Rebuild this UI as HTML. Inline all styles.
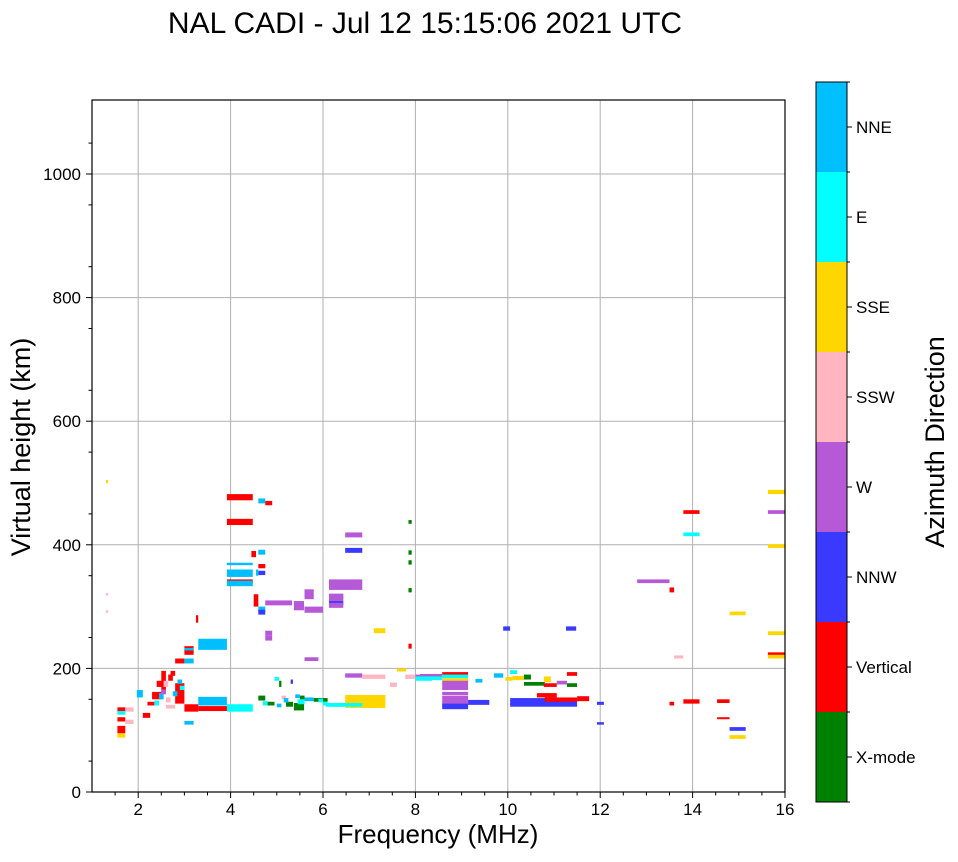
<!DOCTYPE html>
<html><head><meta charset="utf-8"><style>
body{margin:0;background:#fff;width:958px;height:857px;overflow:hidden;font-family:"Liberation Sans",sans-serif}
svg text{font-family:"Liberation Sans",sans-serif}
</style></head><body>
<svg id="chart" width="958" height="857" xmlns="http://www.w3.org/2000/svg">
<text x="425" y="33" font-size="30" text-anchor="middle">NAL CADI - Jul 12 15:15:06 2021 UTC</text>
<g id="grid"></g>
<g id="marks"></g>
<rect x="92" y="100" width="693" height="692" fill="none" stroke="#000" stroke-width="1.2"/>
<g id="axes"></g>
<text x="438" y="843" font-size="26" text-anchor="middle">Frequency (MHz)</text>
<text transform="translate(30,447) rotate(-90)" font-size="27" text-anchor="middle">Virtual height (km)</text>
<g id="cbar"></g>
<text transform="translate(944,442) rotate(-90)" font-size="27" text-anchor="middle">Azimuth Direction</text>
</svg>
<script>
const directions=["X-mode","Vertical","NNW","W","SSW","SSE","E","NNE"];
const dirColors=["#008000","#ff0000","#3a3aff","#b659d6","#ffb6c1","#ffd700","#00ffff","#00bfff"];
const xTicks=[2,4,6,8,10,12,14,16];
const yTicks=[0,200,400,600,800,1000];
// segments: [f0 MHz, f1 MHz, h0 km, h1 km, direction index]
const segF0=[3.92,3.92,3.92,3.92,3.92,3.92,4.6,4.75,4.6,4.6,4.6,6.48,6.48,6.13,5.6,6.13,6.13,6.13,6.13,5.37,5.6,4.75,4.6,4.6,4.75,4.75,7.1,3.3,3.0,3.0,3.0,2.8,3.0,5.6,6.48,6.85,7.78,8.0,8.0,6.48,6.13,6.48,6.85,6.06,5.37,5.6,4.6,3.92,3.3,3.3,3.0,2.8,2.5,2.1,1.55,1.55,1.55,1.55,1.55,1.72,1.72,1.6,1.97,3.0,3.25,8.1,8.1,8.58,8.58,8.58,8.58,8.58,8.58,8.58,8.58,9.14,9.3,10.05,10.63,10.8,11.5,10.35,10.1,10.78,10.35,10.78,11.28,11.28,11.06,11.93,11.93,13.5,13.8,14.53,14.53,14.8,14.8,13.6,15.63,15.63,10.05,12.8,13.5,13.8,13.8,15.63,15.63,15.63,14.8,15.63,11.26,9.9,7.85,7.85,7.85,7.85,7.85,1.3,1.3,1.3,4.8,5.0,5.2,5.45,5.8,4.95,5.1,5.4,2.3,2.4,2.6,2.2,4.5,4.55,4.45,5.05,5.3,9.7,9.95,7.45,7.6,2.45,2.55,2.65,2.75,2.9,2.35,2.5,2.7,2.6,2.85,4.7,5.15,5.5,5.9,6.0];
const segF1=[4.48,4.48,4.48,4.48,4.48,4.48,4.75,4.9,4.75,4.75,4.75,6.85,6.85,6.85,5.8,6.44,6.44,6.44,6.44,5.59,6.0,5.33,4.75,4.75,4.9,4.9,7.35,3.92,3.2,3.2,3.2,3.0,3.2,5.9,6.85,7.35,8.0,8.36,8.36,7.35,6.44,7.35,7.1,6.85,5.59,5.8,4.75,4.48,3.92,3.92,3.3,3.0,2.6,2.26,1.72,1.72,1.72,1.72,1.72,1.9,1.9,1.72,2.1,3.2,3.3,8.58,8.58,9.14,9.14,9.14,9.14,9.14,9.14,9.14,9.14,9.6,9.45,11.5,11.06,11.5,11.76,10.5,10.35,10.93,10.8,11.06,11.5,11.5,11.28,12.08,12.08,13.6,14.15,14.8,14.8,15.15,15.15,13.8,16,16,10.2,13.5,13.6,14.15,14.15,16,16,16,15.15,16,11.48,10.05,7.92,7.92,7.92,7.92,7.92,1.35,1.35,1.35,4.95,5.1,5.35,5.6,6.1,5.05,5.2,5.5,2.5,2.6,2.8,2.35,4.6,4.6,4.55,5.1,5.35,9.9,10.1,7.6,7.8,2.55,2.65,2.75,2.85,3.0,2.45,2.6,2.8,2.7,2.95,4.8,5.25,5.6,6.0,6.1];
const segH0=[472,432,367,348,337,333,467,464,384,362,351,412,387,327,312,313,309,303,298,294,290,302,291,287,253,245,257,230,229,227,222,208,208,212,185,183,183,183,180,144,138,136,136,138,132,147,148,130,140,131,130,143,160,120,129,125,114,95,88,110,130,126,153,109,274,185,181,188,184,178,165,157,141,138,134,141,177,138,153,146,147,182,181,178,172,170,170,188,174,141,109,140,143,144,118,99,86,216,220,216,191,338,323,450,414,482,450,395,286,254,261,261,434,384,368,323,232,500,318,290,140,137,138,142,146,180,150,152,150,170,135,140,300,350,380,170,175,185,180,170,195,150,170,180,155,165,140,158,188,145,175,140,145,150,145,140];
const segH1=[482,442,371,360,344,342,475,471,392,369,358,420,395,344,328,321,316,309,306,309,300,310,300,295,261,253,265,248,236,233,229,216,216,218,192,190,190,190,187,157,144,145,143,144,144,153,156,142,154,139,142,176,196,128,137,131,121,107,95,117,137,131,165,115,286,191,187,194,190,184,180,162,156,143,140,149,183,152,160,153,155,190,188,187,178,176,176,194,180,146,113,146,150,150,121,105,92,221,226,222,197,344,331,456,420,489,456,401,292,260,268,268,440,391,375,330,240,505,322,294,146,143,146,150,152,186,156,158,162,180,141,146,320,360,390,180,182,192,186,177,200,160,180,190,163,172,148,166,196,153,182,147,152,156,151,146];
const segDir=[1,1,7,7,1,7,7,1,7,1,2,3,2,3,3,3,3,2,3,3,3,3,7,2,3,3,5,7,1,7,1,1,7,3,3,4,4,3,6,5,6,5,5,6,0,7,0,6,7,1,1,1,1,1,1,6,1,1,5,4,4,6,7,7,1,3,6,1,6,5,3,3,3,2,2,2,7,2,1,1,1,0,5,5,0,1,0,1,3,2,2,1,1,1,1,2,5,4,1,5,6,3,1,1,6,5,3,5,5,5,2,2,0,0,0,0,1,5,4,4,0,7,0,6,0,6,4,7,1,1,4,1,1,7,1,0,2,7,5,4,5,7,4,1,7,6,6,3,1,4,7,6,7,0,6,6];

const X0=92,X1=785,Y0=792,PX=(X1-X0)/15,PY=618/1000;
const xs=f=>X0+(f-1)*PX, ys=h=>Y0-h*PY;
const NS="http://www.w3.org/2000/svg";
function mk(tag,at,parent){const e=document.createElementNS(NS,tag);for(const k in at)e.setAttribute(k,at[k]);parent.appendChild(e);return e;}
const grid=document.getElementById('grid'),axes=document.getElementById('axes'),marks=document.getElementById('marks'),cbar=document.getElementById('cbar');
xTicks.forEach(t=>{
  const x=xs(t);
  if(t<16){const g=mk('line',{x1:x,x2:x,y1:100,y2:Y0,stroke:'#b0b0b0','stroke-width':1},grid);
  
  }
  mk('line',{x1:x,x2:x,y1:Y0,y2:Y0+6,stroke:'#000'},axes);
  const tx=mk('text',{x:x,y:Y0+23,'font-size':17,'text-anchor':'middle'},axes);tx.textContent=t;
  
  
});
for(let f=1.5;f<16;f+=0.5){if(f%2!==0)mk('line',{x1:xs(f),x2:xs(f),y1:Y0,y2:Y0+3.5,stroke:'#000'},axes);}
yTicks.forEach(t=>{
  const y=ys(t);
  if(t>0){const g=mk('line',{x1:X0,x2:X1,y1:y,y2:y,stroke:'#b0b0b0','stroke-width':1},grid);
  
  }
  mk('line',{x1:X0-6,x2:X0,y1:y,y2:y,stroke:'#000'},axes);
  const tx=mk('text',{x:X0-11,y:y+6,'font-size':17,'text-anchor':'end'},axes);tx.textContent=t;
  
  
});
for(let h=50;h<=1100;h+=100)mk('line',{x1:X0-3.5,x2:X0,y1:ys(h),y2:ys(h),stroke:'#000'},axes);
for(let i=0;i<segF0.length;i++){
  const x=xs(segF0[i]),w=Math.max(2,xs(segF1[i])-x),y=ys(segH1[i]),h=Math.max(2,ys(segH0[i])-y);
  const r=mk('rect',{x:x,y:y,width:w,height:h,fill:dirColors[segDir[i]]},marks);
  
  
}
const cx=816,cw=31,cy0=82,cy1=802,seg=(cy1-cy0)/directions.length;
directions.forEach((d,i)=>{
  const y=cy1-(i+1)*seg;
  const r=mk('rect',{x:cx,y:y,width:cw,height:seg,fill:dirColors[i]},cbar);
  
  
  mk('line',{x1:cx+cw,x2:cx+cw+5,y1:y+seg/2,y2:y+seg/2,stroke:'#000'},cbar);
  mk('line',{x1:cx+cw,x2:cx+cw+3,y1:y,y2:y,stroke:'#000'},cbar);
  const t=mk('text',{x:cx+cw+9,y:y+seg/2+6,'font-size':17},cbar);t.textContent=d;
  
  
});
mk('line',{x1:cx+cw,x2:cx+cw+3,y1:cy1,y2:cy1,stroke:'#000'},cbar);
mk('rect',{x:cx,y:cy0,width:cw,height:cy1-cy0,fill:'none',stroke:'#000','stroke-width':1},cbar);
</script>
</body></html>
